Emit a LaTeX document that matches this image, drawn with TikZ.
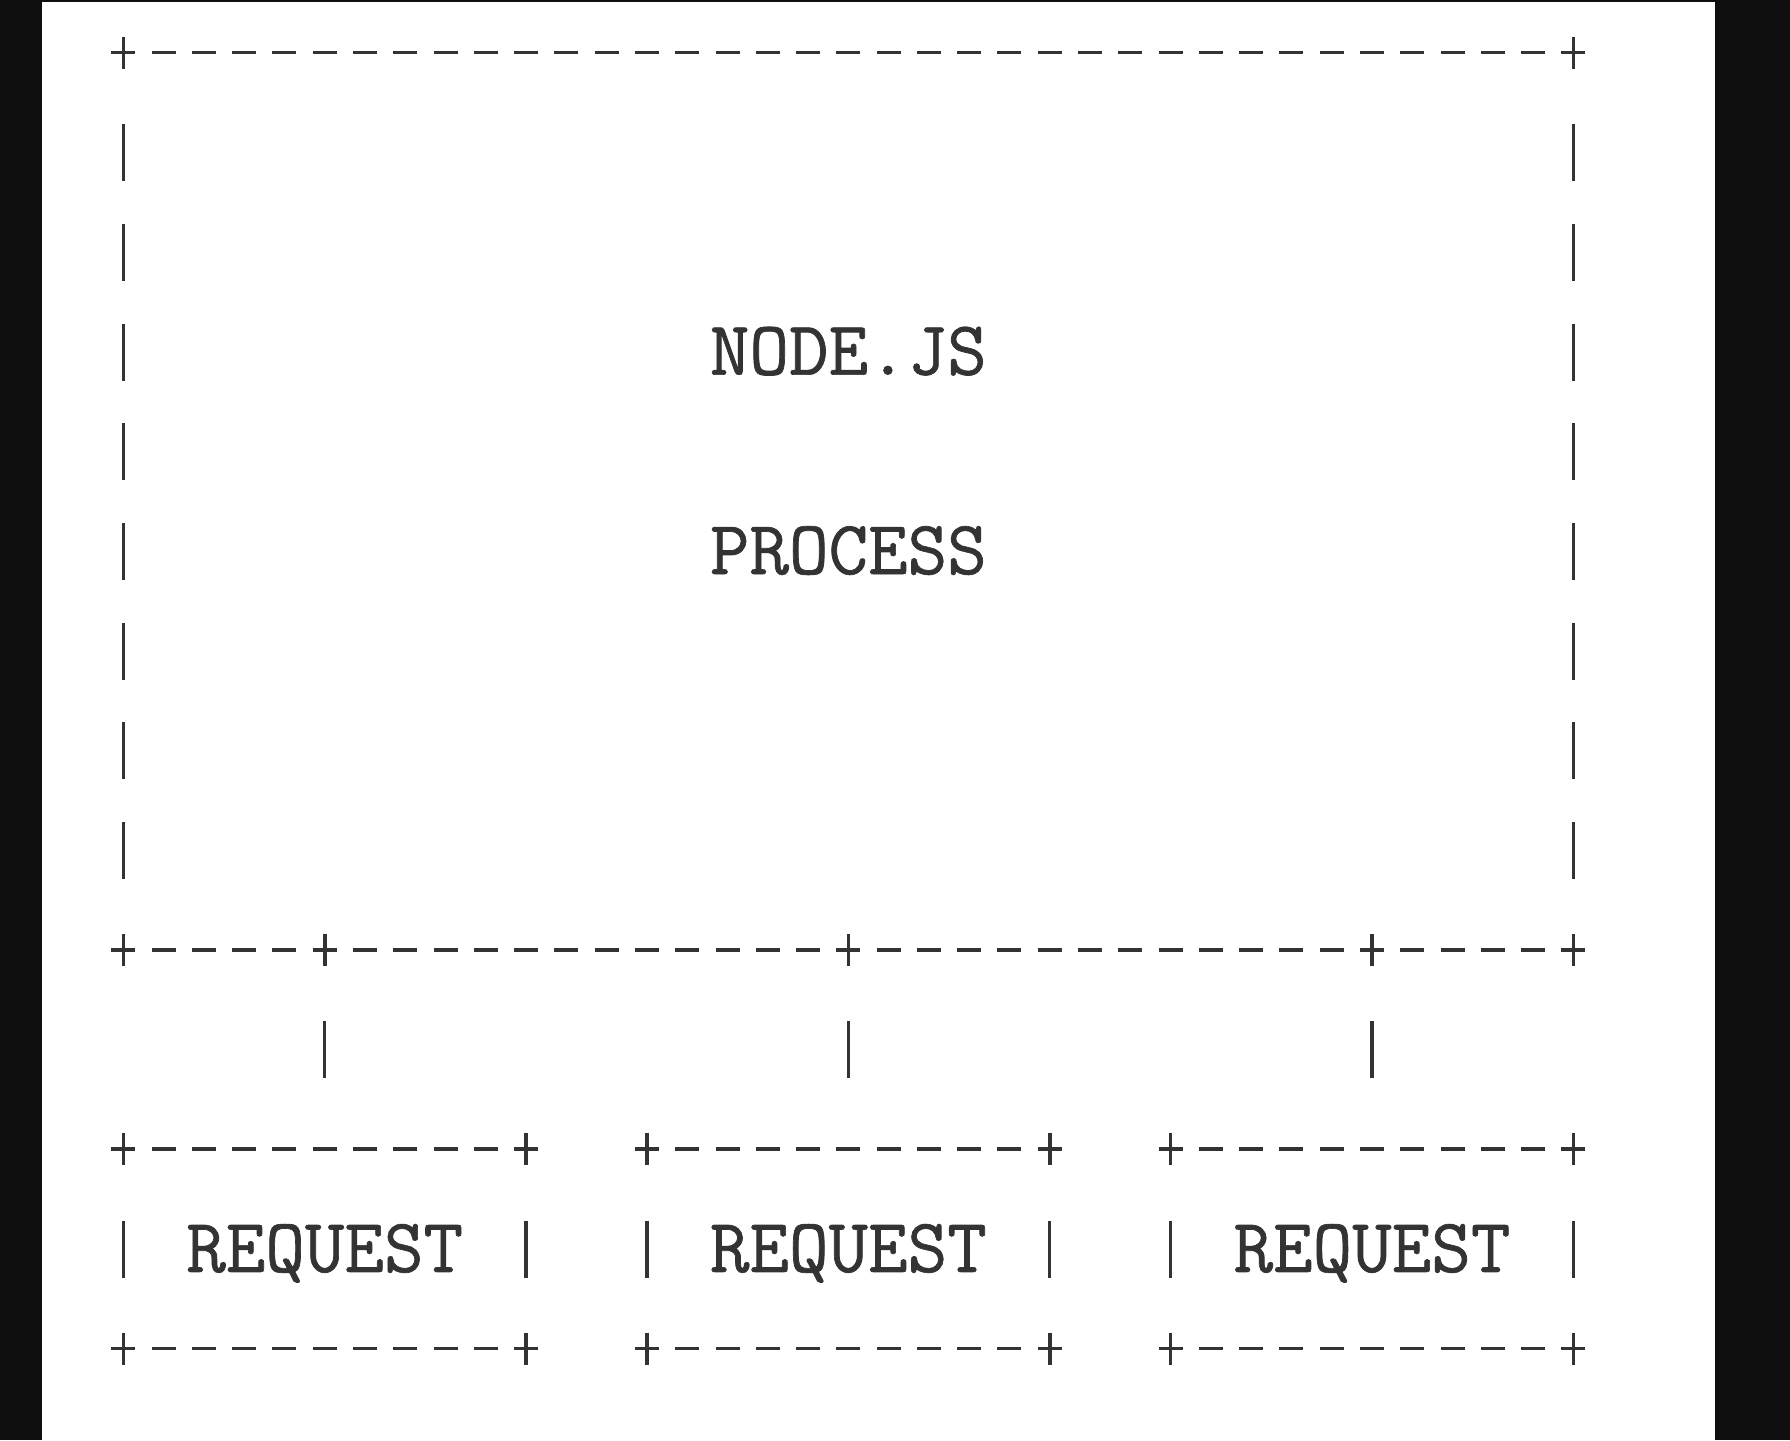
\documentclass[tikz,border=0pt]{standalone}
\usepackage{fontspec}
\newfontfamily\asciifont[FakeBold=0.9]{Latin Modern Mono}
\usetikzlibrary{calc}
\definecolor{ink}{HTML}{333333}
\definecolor{scanblack}{HTML}{0F0F0F}
\tikzset{dashbit/.style = {ink, line width=0.9pt}}
\tikzset{barbit/.style = {ink, line width=0.85pt}}
\tikzset{asciitext/.style = {ink, font=\asciifont\fontsize{19.2}{19.2}\selectfont, inner sep=0pt, anchor=base}}
% grid of character cells (in scan pixels)
\newcommand{\cx}[1]{123.3+40.28*(#1)}
\newcommand{\ry}[1]{52.5+99.7*(#1)}
\newcommand{\plusat}[2]{
   \draw[dashbit] ({\cx{#1}-12},{\ry{#2}}) -- ++(24,0);
   \draw[dashbit] ({\cx{#1}},{\ry{#2}-16}) -- ++(0,32);
}
\newcommand{\barat}[2]{
   \draw[barbit] ({\cx{#1}},{\ry{#2}-28}) -- ++(0,57);
}
\newcommand{\dashrow}[3]{
   \pgfmathtruncatemacro{\first}{#2+1}
   \pgfmathtruncatemacro{\last}{#3-1}
   \foreach \c in {\first,...,\last}
      \draw[dashbit] ({\cx{\c}-12},{\ry{#1}}) -- ++(24,0);
   \plusat{#2}{#1}
   \plusat{#3}{#1}
}

\begin{document}
\begin{tikzpicture}[x=0.25pt, y=-0.25pt]
		\useasboundingbox (0,0) rectangle (1790,1440);

		% Scan edges
		\fill[scanblack] (0,0) rectangle (42,1440);
		\fill[scanblack] (1715,0) rectangle (1790,1440);
		\fill[scanblack] (42,0) rectangle (1715,2);

		% Process box
		\dashrow{0}{0}{36}
		\foreach \r in {1,...,8} {
			\barat{0}{\r}
			\barat{36}{\r}
		}
		\dashrow{9}{0}{5}
		\dashrow{9}{5}{18}
		\dashrow{9}{18}{31}
		\dashrow{9}{31}{36}
		\node[asciitext] (nodejs) at ({\cx{18}},{\ry{3}+23}) {NODE.JS};
		\node[asciitext] (process) at ({\cx{18}},{\ry{5}+23}) {PROCESS};

		% Requests
		\foreach \a/\n in {0/1, 13/2, 26/3} {
			\pgfmathtruncatemacro{\b}{\a+10}
			\pgfmathtruncatemacro{\m}{\a+5}
			\dashrow{11}{\a}{\b}
			\dashrow{13}{\a}{\b}
			\barat{\a}{12}
			\barat{\b}{12}
			\node[asciitext] (req\n) at ({\cx{\m}},{\ry{12}+23}) {REQUEST};
			\coordinate (j\n) at ({\cx{\m}},{\ry{9}});
			\coordinate (t\n) at ({\cx{\m}},{\ry{11}});
			\draw[barbit, shorten <=17.8pt, shorten >=17.8pt] (j\n) -- (t\n);
		}
	\end{tikzpicture}
\end{document}
